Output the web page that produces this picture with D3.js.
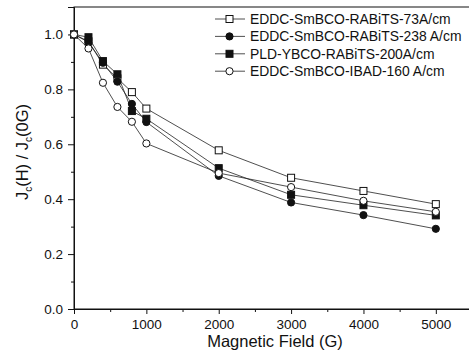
<!DOCTYPE html>
<html>
<head>
<meta charset="utf-8">
<script src="https://cdn.jsdelivr.net/npm/d3@7"></script>
<style>
  body { margin: 0; background: #fff; }
  svg { display: block; font-family: "Liberation Sans", Arial, sans-serif; }
</style>
</head>
<body>
<svg id="chart" width="469" height="356"></svg>
<script>
const fields = [0, 200, 400, 600, 800, 1000, 2000, 3000, 4000, 5000];
const seriesNames = [
  "EDDC-SmBCO-RABiTS-73A/cm",
  "EDDC-SmBCO-RABiTS-238 A/cm",
  "PLD-YBCO-RABiTS-200A/cm",
  "EDDC-SmBCO-IBAD-160 A/cm"
];
const rabits73 = [1.0, 0.975, 0.89, 0.84, 0.79, 0.73, 0.578, 0.478, 0.43, 0.382];
const rabits238 = [1.0, 0.972, 0.897, 0.828, 0.747, 0.681, 0.485, 0.388, 0.342, 0.292];
const pld200 = [1.0, 0.99, 0.903, 0.855, 0.721, 0.693, 0.513, 0.416, 0.378, 0.341];
const ibad160 = [1.0, 0.949, 0.824, 0.736, 0.682, 0.603, 0.495, 0.444, 0.394, 0.354];
const markers = ["openSquare", "filledCircle", "filledSquare", "openCircle"];
const xTicks = [0, 1000, 2000, 3000, 4000, 5000];
const yTicks = [0.0, 0.2, 0.4, 0.6, 0.8, 1.0];

const allSeries = [rabits73, rabits238, pld200, ibad160];

const margin = { left: 74, top: 7, right: -3, bottom: 47 };
const width = 469, height = 356;

const x = d3.scaleLinear().domain([0, 5500]).range([margin.left, width - margin.right]);
const y = d3.scaleLinear().domain([0, 1.1]).range([height - margin.bottom, margin.top]);

const svg = d3.select("#chart");
const ink = "#111";

// frame
svg.append("rect")
  .attr("x", x(0)).attr("y", y(1.1))
  .attr("width", x(5500) - x(0)).attr("height", y(0) - y(1.1))
  .attr("fill", "none").attr("stroke", ink).attr("stroke-width", 1);

// x axis
svg.append("g").attr("transform", `translate(0,${y(0)})`)
  .call(d3.axisBottom(x).tickValues(xTicks).tickFormat(d3.format("d")).tickSize(5).tickPadding(5));
svg.append("g").attr("transform", `translate(0,${y(0)})`)
  .call(d3.axisBottom(x).tickValues(d3.range(500, 5500, 1000)).tickFormat("").tickSize(3))
  .call(g => g.select(".domain").remove());

// y axis
svg.append("g").attr("transform", `translate(${x(0)},0)`)
  .call(d3.axisLeft(y).tickValues(yTicks).tickFormat(d3.format(".1f")).tickSize(6).tickPadding(5));
svg.append("g").attr("transform", `translate(${x(0)},0)`)
  .call(d3.axisLeft(y).tickValues([0.1, 0.3, 0.5, 0.7, 0.9]).tickFormat("").tickSize(3))
  .call(g => g.select(".domain").remove());

svg.selectAll(".tick line").attr("stroke", ink);
svg.selectAll(".domain").attr("stroke", ink);
svg.selectAll(".tick text").attr("fill", ink).style("font-size", "13.5px")
  .style("font-family", "'Liberation Sans', Arial, sans-serif");

// axis titles
svg.append("text")
  .attr("x", 275).attr("y", 347)
  .attr("text-anchor", "middle")
  .style("font-size", "16.5px").attr("fill", ink)
  .text("Magnetic Field (G)");

const yTitle = svg.append("text")
  .attr("transform", "translate(28,152) rotate(-90)")
  .attr("text-anchor", "middle")
  .style("font-size", "16.5px").attr("fill", ink);
yTitle.append("tspan").text("J");
yTitle.append("tspan").attr("dy", 4).style("font-size", "10px").text("c");
yTitle.append("tspan").attr("dy", -4).text("(H) / J");
yTitle.append("tspan").attr("dy", 4).style("font-size", "10px").text("c");
yTitle.append("tspan").attr("dy", -4).text("(0G)");

function drawMarker(g, kind, cx, cy) {
  if (kind.endsWith("Square")) {
    g.append("rect")
      .attr("x", cx - 3.5).attr("y", cy - 3.5).attr("width", 7).attr("height", 7)
      .attr("fill", kind === "filledSquare" ? ink : "#fff")
      .attr("stroke", ink).attr("stroke-width", 1);
  } else {
    g.append("circle")
      .attr("cx", cx).attr("cy", cy).attr("r", 3.6)
      .attr("fill", kind === "filledCircle" ? ink : "#fff")
      .attr("stroke", ink).attr("stroke-width", 1);
  }
}

const line = d3.line().x(d => x(d[0])).y(d => y(d[1]));

allSeries.forEach((vals, i) => {
  const pts = fields.map((f, j) => [f, vals[j]]);
  svg.append("path").datum(pts)
    .attr("d", line)
    .attr("fill", "none").attr("stroke", "#222").attr("stroke-width", 0.8);
});
allSeries.forEach((vals, i) => {
  const g = svg.append("g");
  fields.forEach((f, j) => drawMarker(g, markers[i], x(f), y(vals[j])));
});

// legend
const legend = svg.append("g");
seriesNames.forEach((name, i) => {
  const ly = 19 + i * 17.4;
  const row = legend.append("g");
  row.append("line").attr("x1", 215).attr("x2", 245).attr("y1", ly).attr("y2", ly)
    .attr("stroke", "#222").attr("stroke-width", 0.8);
  drawMarker(row, markers[i], 229.5, ly);
  row.append("text").attr("x", 250).attr("y", ly).attr("dy", "0.35em")
    .style("font-size", "13.9px").attr("fill", ink).text(name);
});
</script>
</body>
</html>
